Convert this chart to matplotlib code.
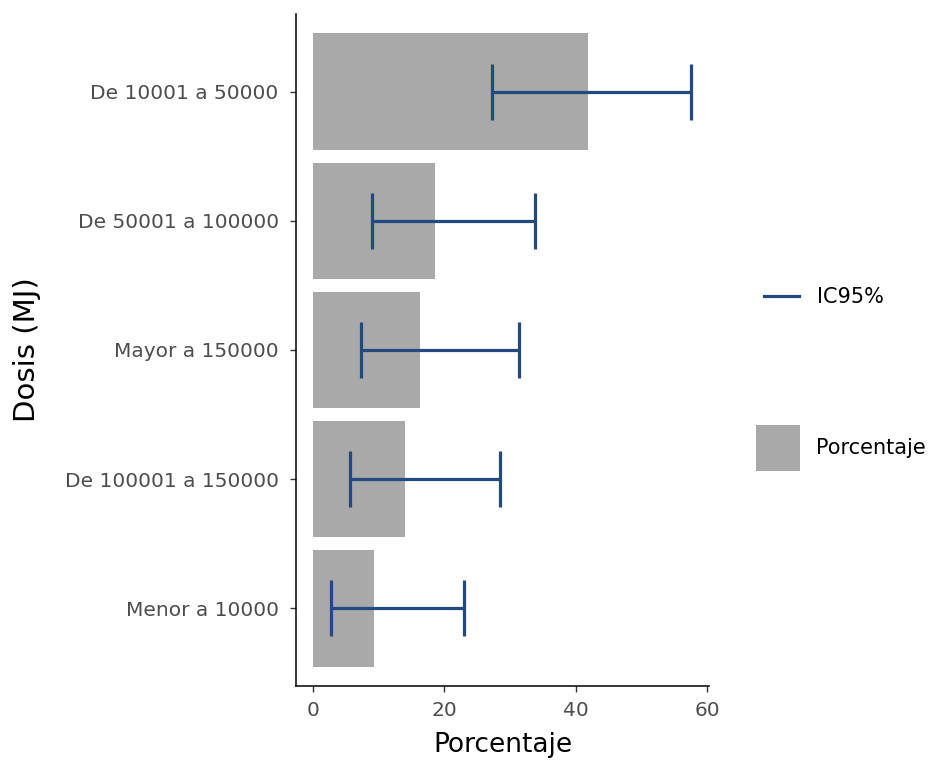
import numpy as np
import matplotlib
matplotlib.use("Agg")
import matplotlib.pyplot as plt
from matplotlib.lines import Line2D
from matplotlib.patches import Patch

categorias = ["Menor a 10000", "De 100001 a 150000", "Mayor a 150000",
              "De 50001 a 100000", "De 10001 a 50000"]
porcentaje = [9.30, 13.95, 16.28, 18.60, 41.86]
ic_inf = [2.8, 5.7, 7.3, 9.0, 27.3]
ic_sup = [23.0, 28.5, 31.4, 33.8, 57.6]

bar_color = "#A9A9A9"
err_color = "#234A7E"
txt_color = "#4D4D4D"

plt.rcParams["font.family"] = ["DejaVu Sans"]

fig = plt.figure(figsize=(9.38, 7.6), dpi=100)
ax = fig.add_axes([0.3156, 0.0974, 0.4403, 0.8842])

y = np.arange(1, len(categorias) + 1)
ax.barh(y, porcentaje, height=0.9, color=bar_color, zorder=1)
pct = np.array(porcentaje)
xerr = [pct - np.array(ic_inf), np.array(ic_sup) - pct]
ax.errorbar(pct, y, xerr=xerr, fmt="none", ecolor=err_color, elinewidth=2.3,
            capsize=20, capthick=2.3, zorder=2)

ax.set_ylim(0.4, len(categorias) + 0.6)
ax.set_xlim(-2.59, 60.3)
ax.set_yticks(y)
ax.set_yticklabels(categorias)
ax.set_xticks([0, 20, 40, 60])
ax.tick_params(axis="both", colors="#333333", labelcolor=txt_color,
               labelsize=14.5, length=4.5, width=1)
ax.tick_params(axis="y", pad=8)
ax.tick_params(axis="x", pad=6)
for s in ["top", "right"]:
    ax.spines[s].set_visible(False)
for s in ["left", "bottom"]:
    ax.spines[s].set_linewidth(1.1)

ax.set_xlabel("Porcentaje", fontsize=19, labelpad=9)
ax.set_ylabel("Dosis (MJ)", fontsize=21, labelpad=17)

fig.legend(handles=[Line2D([0], [0], color=err_color, lw=2.3)],
           labels=["IC95%"], loc="center left",
           bbox_to_anchor=(0.795, 0.609), frameon=False,
           fontsize=15, handlelength=1.68, handletextpad=0.85)
fig.legend(handles=[Patch(facecolor=bar_color)],
           labels=["Porcentaje"], loc="center left",
           bbox_to_anchor=(0.786, 0.411), frameon=False,
           fontsize=15, handlelength=2.1, handleheight=3.0,
           handletextpad=0.8)

plt.savefig("out.png", dpi=100)
